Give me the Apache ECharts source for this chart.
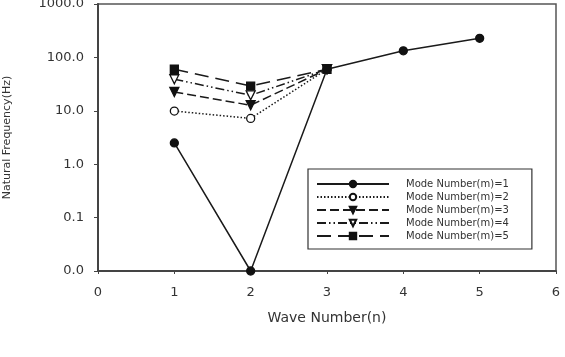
<!DOCTYPE html>
<html><head><meta charset="utf-8">
<script src="https://cdn.jsdelivr.net/npm/echarts@6/dist/echarts.min.js"></script>
<style>html,body{margin:0;padding:0;background:#fff}#c{width:565px;height:357px}</style>
</head><body><div id="c"></div>
<script>
const waveNumbers = [1, 2, 3, 4, 5];
const seriesNames = ['Mode Number(m)=1','Mode Number(m)=2','Mode Number(m)=3','Mode Number(m)=4','Mode Number(m)=5'];
const mode1 = [2.5, 0.01, 60, 133, 228];
const mode2 = [9.9, 7.2, 60];
const mode3 = [22.5, 12.7, 60];
const mode4 = [39, 19.5, 60];
const mode5 = [60, 29, 60];

const allData = [mode1, mode2, mode3, mode4, mode5];
const dashes = ['solid', [1.5, 2], [9, 4], [9, 3, 1.5, 3, 1.5, 3], [14, 7]];
const tri = 'path://M0,0 L10,0 L5,9 Z';
const symbols = ['circle', 'circle', tri, tri, 'rect'];
const fills = ['#111', '#fff', '#111', '#fff', '#111'];
const sizes = [8, 8, 9, 9, 8];

const series = allData.map((arr, i) => ({
  name: seriesNames[i],
  type: 'line',
  data: arr.map((v, j) => [waveNumbers[j], v]),
  symbol: symbols[i],
  symbolSize: sizes[i],
  showAllSymbol: true,
  z: 10 - i,
  lineStyle: { color: '#1a1a1a', width: 1.5, type: dashes[i] },
  itemStyle: { color: fills[i], borderColor: '#111', borderWidth: 1.3 },
  emphasis: { disabled: true }
}));

const chart = echarts.init(document.getElementById('c'), null, { renderer: 'canvas' });
chart.setOption({
  animation: false,
  textStyle: { fontFamily: 'DejaVu Sans, Liberation Sans, Arial, sans-serif' },
  grid: { left: 98, right: 9, top: 4, bottom: 86, containLabel: false, outerBoundsMode: 'none', show: true, borderColor: '#555', borderWidth: 1.5, backgroundColor: '#fff' },
  xAxis: {
    type: 'value', min: 0, max: 6, interval: 1,
    name: 'Wave Number(n)', nameLocation: 'middle', nameGap: 40,
    nameTextStyle: { fontSize: 14, color: '#333' },
    axisLine: { lineStyle: { color: '#444', width: 2 } },
    axisTick: { lineStyle: { color: '#444' }, length: 3 },
    axisLabel: { fontSize: 13, color: '#333', margin: 15 },
    splitLine: { show: false }
  },
  yAxis: {
    type: 'log', logBase: 10, min: 0.01, max: 1000,
    name: 'Natural Frequency(Hz)', nameLocation: 'middle', nameGap: 85,
    nameTextStyle: { fontSize: 11, color: '#333' },
    axisLine: { lineStyle: { color: '#444', width: 2 } },
    axisTick: { lineStyle: { color: '#444' }, length: 4 },
    axisLabel: { fontSize: 13, color: '#333', margin: 14, formatter: v => Number(v).toFixed(1) },
    splitLine: { show: false }
  },
  legend: {
    orient: 'vertical', left: 308, top: 169,
    padding: [10, 23, 8, 8],
    itemWidth: 72, itemHeight: 8, itemGap: 3,
    borderColor: '#333', borderWidth: 1.2,
    textStyle: { fontSize: 10, color: '#333', padding: [0, 0, 0, 12] },
    data: seriesNames
  },
  series: series
});
</script></body></html>
